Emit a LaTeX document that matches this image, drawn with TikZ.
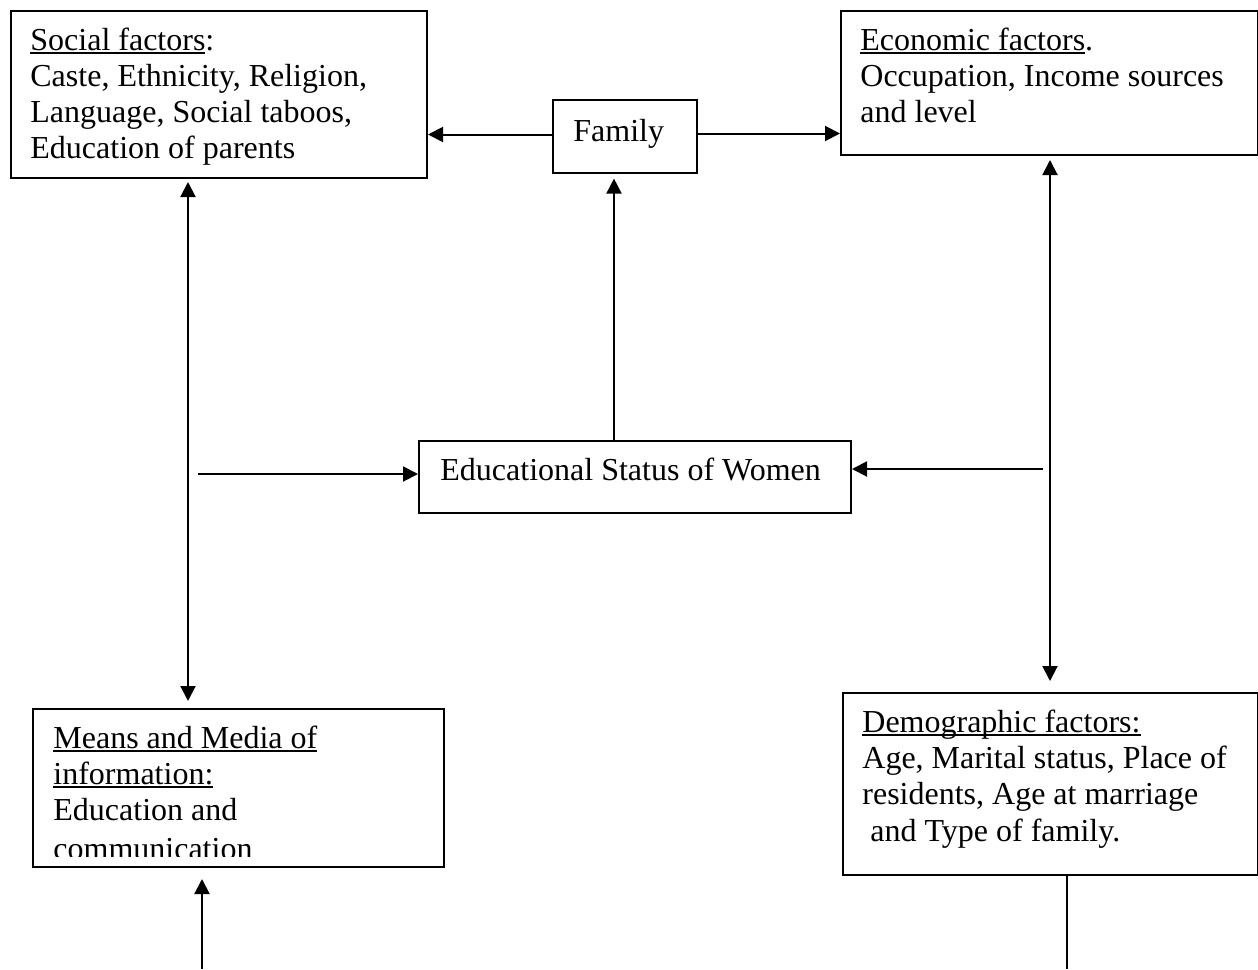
\documentclass[tikz,border=0pt]{standalone}
\usepackage{fontspec}
\setmainfont{Liberation Serif}
\usetikzlibrary{arrows.meta}
\newsavebox\ulbox
\newcommand\myul[1]{\sbox\ulbox{#1}\rlap{\rule[-2pt]{\wd\ulbox}{1pt}}\usebox\ulbox}
\begin{document}
\begin{tikzpicture}[x=0.5pt,y=-0.5pt,
  box/.style={draw,line width=1pt,inner sep=0pt,anchor=north west},
  txt/.style={anchor=base west,inner sep=0pt,font=\fontsize{16pt}{18pt}\selectfont},
  arr/.style={line width=1pt,-{Triangle[length=7.5pt,width=7.5pt]}},
  darr/.style={line width=1pt,{Triangle[length=7.5pt,width=7.5pt]}-{Triangle[length=7.5pt,width=7.5pt]}},
  ln/.style={line width=1pt}]
\useasboundingbox (0,0) rectangle (1258,969);
% boxes
\node[box,minimum width=208pt,minimum height=83.5pt] (social) at (10,10) {};
\node[box,minimum width=72pt,minimum height=36.5pt] (family) at (552,99) {};
\node[box,minimum width=208.5pt,minimum height=72pt] (econ) at (840,10) {};
\node[box,minimum width=216pt,minimum height=36pt] (edu) at (418,440) {};
\node[box,minimum width=205.5pt,minimum height=79pt] (means) at (32,708) {};
\node[box,minimum width=207.5pt,minimum height=91pt] (demo) at (842,692) {};
% texts
\node[txt] (s1) at (30,50) {\myul{Social factors}:};
\node[txt] (s2) at (30,86) {Caste, Ethnicity, Religion,};
\node[txt] (s3) at (30,122) {Language, Social taboos,};
\node[txt] (s4) at (30,158) {Education of parents};
\node[txt] (f1) at (573,141) {Family};
\node[txt] (e1) at (860,50) {\myul{Economic factors}.};
\node[txt] (e2) at (860,86) {Occupation, Income sources};
\node[txt] (e3) at (860,122) {and level};
\node[txt] (w1) at (440,480) {Educational Status of Women};
\node[txt] (m1) at (53,748) {\myul{Means and Media of}};
\node[txt] (m2) at (53,784) {\myul{information:}};
\node[txt] (m3) at (53,820) {Education and};
\begin{scope}
\clip (32,800) rectangle (443,856);
\node[txt] (m4) at (53,859) {communication};
\end{scope}
\node[txt] (d1) at (862,732) {\myul{Demographic factors:}};
\node[txt] (d2) at (862,768) {Age, Marital status, Place of};
\node[txt] (d3) at (862,804) {residents, Age at marriage};
\node[txt] (d4) at (870,841) {and Type of family.};
% helper coordinates
\coordinate (lx) at (188,0);
\coordinate (rx) at (1050,0);
\coordinate (fx) at (614,0);
\coordinate (lh) at (198,474);
\coordinate (rh) at (1043,469);
\coordinate (bl) at (202,969);
\coordinate (dx) at (1067,969);
% connectors
\draw[arr] ([yshift=1pt]family.west) -- ([yshift=1pt]family.west -| social.east);
\draw[arr] ([yshift=1.5pt]family.east) -- ([yshift=1.5pt]family.east -| econ.west);
\draw[arr,shorten >=2.3pt] (edu.north -| fx) -- (family.south -| fx);
\draw[darr,shorten <=1.5pt,shorten >=3.5pt] (social.south -| lx) -- (means.north -| lx);
\draw[arr] (lh) -- (lh -| edu.west);
\draw[arr] (rh) -- (rh -| edu.east);
\draw[darr,shorten <=2pt,shorten >=5.5pt] (econ.south -| rx) -- (demo.north -| rx);
\draw[arr,shorten >=5.5pt] (bl) -- (bl |- means.south);
\draw[ln] (demo.south -| dx) -- (dx);
\end{tikzpicture}
\end{document}
